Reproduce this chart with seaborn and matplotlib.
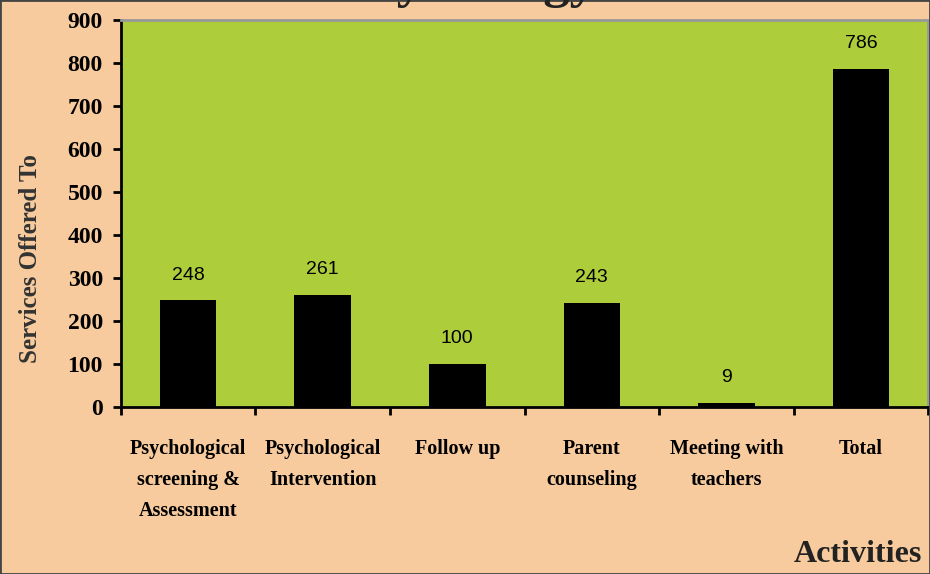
import matplotlib
matplotlib.use("Agg")
import matplotlib.pyplot as plt
import seaborn as sns
import pandas as pd

# chart data
activities = ["Psychological\nscreening &\nAssessment", "Psychological\nIntervention",
              "Follow up", "Parent\ncounseling", "Meeting with\nteachers", "Total"]
services = [248, 261, 100, 243, 9, 786]
yticks = [0, 100, 200, 300, 400, 500, 600, 700, 800, 900]

peach = "#F7CB9D"
green = "#AECD3A"
serif = "Liberation Serif"

df = pd.DataFrame({"activity": activities, "services": services})

sns.set_style("white")
fig = plt.figure(figsize=(9.3, 5.74), dpi=100, facecolor=peach)
ax = fig.add_axes([0.130, 0.291, 0.868, 0.674])
ax.set_facecolor(green)

sns.barplot(data=df, x="activity", y="services", color="black", width=0.42,
            saturation=1, edgecolor="black", linewidth=0, ax=ax)

ax.set_ylim(0, 900)
ax.set_xlim(-0.5, 5.5)
ax.set_yticks(yticks)
ax.set_yticklabels([str(t) for t in yticks], fontfamily=serif, fontweight="bold",
                   fontsize=17, color="black")
ax.set_xticklabels(activities, fontfamily=serif, fontweight="bold", fontsize=14.5,
                   linespacing=1.72, va="top", color="black")
ax.set_xticks([i + 0.5 for i in range(-1, 6)], minor=True)
ax.tick_params(axis="x", which="major", length=0, pad=23, bottom=True)
ax.tick_params(axis="x", which="minor", length=6, width=2, direction="out",
               color="black", bottom=True)
ax.tick_params(axis="y", length=6, width=2, direction="out", color="black", pad=7,
               left=True)
ax.set_xlabel("")
ax.set_ylabel("")

for s in ["left", "bottom"]:
    ax.spines[s].set_color("black")
    ax.spines[s].set_linewidth(2)
for s in ["top", "right"]:
    ax.spines[s].set_color("#999999")
    ax.spines[s].set_linewidth(2)

for c in ax.containers:
    ax.bar_label(c, labels=[str(v) for v in services], padding=12, fontsize=14,
                 fontfamily="Liberation Sans", color="black")

fig.text(0.033, 0.55, "Services Offered To", rotation=90, ha="center", va="center",
         fontfamily=serif, fontweight="bold", fontsize=18, color="#333333")
fig.text(0.992, 0.008, "Activities", ha="right", va="bottom", fontfamily=serif,
         fontweight="bold", fontsize=23, color="#222222")
# title mostly cut off at the top of the original picture
fig.text(0.505, 1.006, "Psychology", ha="center", va="baseline", fontfamily=serif,
         fontweight="bold", fontsize=38, color="#222222")

fig.patches.append(plt.Rectangle((0, 0), 1, 1, transform=fig.transFigure, fill=False,
                                 edgecolor="#444444", linewidth=2))

fig.savefig("out.png", dpi=100, facecolor=peach)
